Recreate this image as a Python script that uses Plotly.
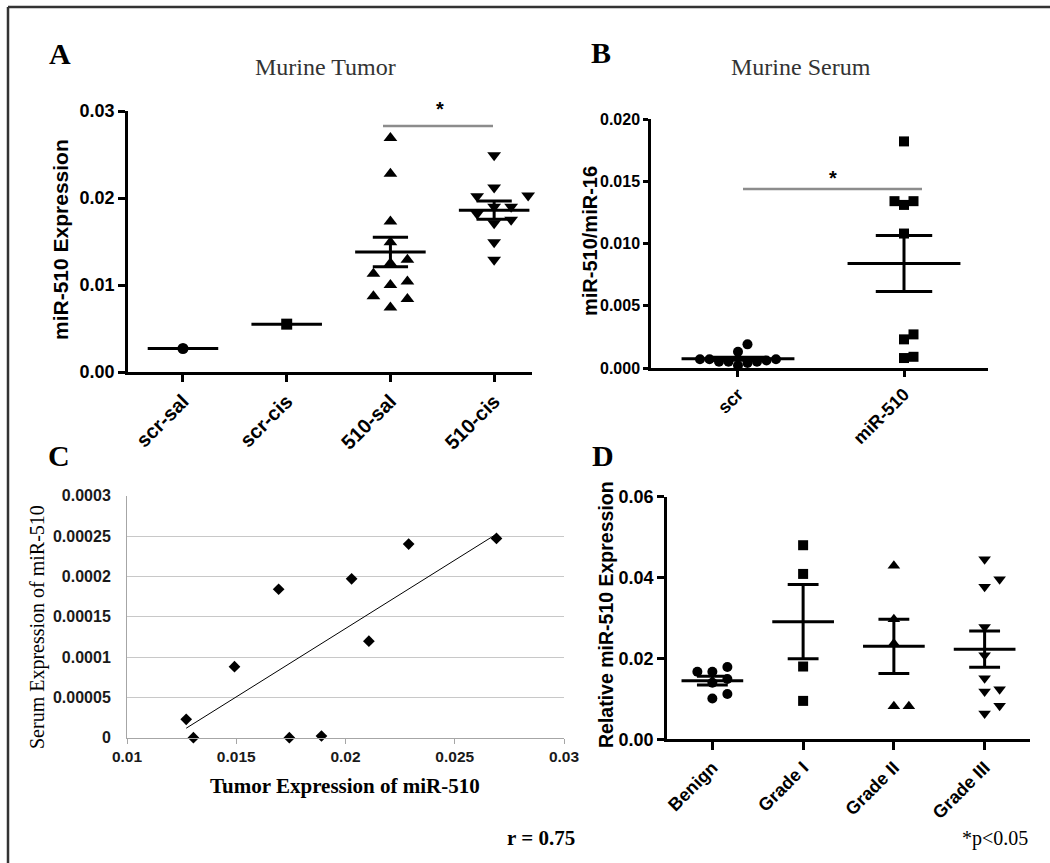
import numpy as np
import plotly.graph_objects as go

# ---------------- data ----------------
# Panel A: Murine Tumor
a_groups = ["scr-sal", "scr-cis", "510-sal", "510-cis"]
a_scr_sal = [0.0027]
a_scr_cis = [0.0055]
a_510_sal = [0.0269, 0.0228, 0.0173, 0.0149, 0.0125, 0.0129, 0.0113, 0.0104,
             0.0100, 0.0087, 0.0084, 0.0074]
a_510_cis = [0.0249, 0.0212, 0.0203, 0.0202, 0.0190, 0.0190, 0.0182, 0.0175,
             0.0171, 0.0149, 0.0129]
a_mean = [0.0027, 0.0055, 0.0138, 0.0186]
a_sem = [0.0, 0.0, 0.0017, 0.00105]
a_yticks = [0.00, 0.01, 0.02, 0.03]

# Panel B: Murine Serum
b_groups = ["scr", "miR-510"]
b_scr = [0.0019, 0.0013, 0.0007, 0.0007, 0.0005, 0.0005, 0.0002, 0.0005,
         0.0006, 0.0007, 0.0004]
b_mir510 = [0.0182, 0.0134, 0.0131, 0.0134, 0.0108, 0.0027, 0.0023, 0.0008, 0.0009]
b_mean = [0.00075, 0.0084]
b_sem = [0.00012, 0.00225]
b_yticks = [0.000, 0.005, 0.010, 0.015, 0.020]

# Panel C: correlation tumor vs serum
c_tumor = [0.01271, 0.01304, 0.01492, 0.01694, 0.01743, 0.0189, 0.02028,
           0.02107, 0.02289, 0.02691]
c_serum = [0.0000228, 0.0, 0.0000881, 0.000184, 0.0, 0.0000021, 0.000197,
           0.0001196, 0.00024, 0.000247]
c_xticks = [0.01, 0.015, 0.02, 0.025, 0.03]
c_xticklabels = ["0.01", "0.015", "0.02", "0.025", "0.03"]
c_yticks = [0, 0.00005, 0.0001, 0.00015, 0.0002, 0.00025, 0.0003]
c_yticklabels = ["0", "0.00005", "0.0001", "0.00015", "0.0002", "0.00025", "0.0003"]

# Panel D: human grades
d_groups = ["Benign", "Grade I", "Grade II", "Grade III"]
d_benign = [0.0167, 0.0167, 0.0179, 0.0140, 0.0149, 0.0101, 0.0112]
d_grade1 = [0.0480, 0.0409, 0.0180, 0.0095]
d_grade2 = [0.0429, 0.0297, 0.0237, 0.0082, 0.0082]
d_grade3 = [0.0445, 0.0377, 0.0396, 0.0278, 0.0208, 0.0151, 0.0124, 0.0118,
            0.0083, 0.0064]
d_mean = [0.0145, 0.0291, 0.0230, 0.0223]
d_sem = [0.0011, 0.0092, 0.0067, 0.0045]
d_yticks = [0.00, 0.02, 0.04, 0.06]

# ---------------- layout helpers ----------------
W, H = 1050, 863


def px(x):
    return x / W


def py(y):
    return 1 - y / H


SANS = "Liberation Sans"
SERIF = "Liberation Serif"


def swarm(vals, yscale, min_d, step):
    """simple beeswarm: horizontal pixel offsets so markers do not overlap"""
    order = sorted(range(len(vals)), key=lambda i: vals[i])
    placed = []
    offs = [0.0] * len(vals)
    for i in order:
        yp = vals[i] * yscale
        xo = 0.0
        for k in [0, 1, -1, 2, -2, 3, -3, 4, -4, 5, -5, 6, -6]:
            xo = k * step
            if all((xo - a) ** 2 + (yp - b) ** 2 >= min_d ** 2 for a, b in placed):
                break
        placed.append((xo, yp))
        offs[i] = xo
    return offs


fig = go.Figure()


def dot_panel(series, symbols, sizes, mean, sem, xa, ya, yscale, xscale, min_d, step):
    for i, (vals, sym, sz) in enumerate(zip(series, symbols, sizes)):
        offs = swarm(vals, yscale, min_d, step)
        xs = [i + o / xscale for o in offs]
        fig.add_trace(go.Scatter(
            x=xs, y=vals, mode="markers", xaxis=xa, yaxis=ya,
            marker=dict(symbol=sym, size=sz, color="black", line=dict(width=0)),
            cliponaxis=False, showlegend=False, hoverinfo="skip"))
    lx, ly = [], []
    for i, (m, s) in enumerate(zip(mean, sem)):
        lx += [i - 0.34, i + 0.34, None]
        ly += [m, m, None]
        if s > 0:
            lx += [i - 0.17, i + 0.17, None, i - 0.17, i + 0.17, None, i, i, None]
            ly += [m + s, m + s, None, m - s, m - s, None, m - s, m + s, None]
    fig.add_trace(go.Scatter(
        x=lx, y=ly, mode="lines", xaxis=xa, yaxis=ya,
        line=dict(color="black", width=3), cliponaxis=False,
        showlegend=False, hoverinfo="skip"))


# Panel A  (axes px: x 128..532, y 111..372)
a_xr = [-0.53, 3.365]
a_yr = [0, 0.03]
a_xscale = (532 - 128) / (a_xr[1] - a_xr[0])
a_yscale = (372 - 111) / (a_yr[1] - a_yr[0])
dot_panel([a_scr_sal, a_scr_cis, a_510_sal, a_510_cis],
          ["circle", "square", "triangle-up", "triangle-down"],
          [11, 11, 12, 12], a_mean, a_sem, "x", "y",
          a_yscale, a_xscale, 11.5, 17)

# Panel B  (axes px: x 651..988, y 119..368)
b_xr = [-0.524, 1.506]
b_yr = [0, 0.02]
b_xscale = (988 - 651) / (b_xr[1] - b_xr[0])
b_yscale = (368 - 119) / (b_yr[1] - b_yr[0])
dot_panel([b_scr, b_mir510], ["circle", "square"], [10, 10], b_mean, b_sem,
          "x2", "y2", b_yscale, b_xscale, 9.5, 9.5)

# Panel C
c_fit = np.polyfit(c_tumor, c_serum, 1)
c_fx = [min(c_tumor), max(c_tumor)]
c_fy = [float(np.polyval(c_fit, v)) for v in c_fx]
fig.add_trace(go.Scatter(x=c_fx, y=c_fy, mode="lines", xaxis="x3", yaxis="y3",
                         line=dict(color="black", width=1), showlegend=False,
                         hoverinfo="skip"))
fig.add_trace(go.Scatter(x=c_tumor, y=c_serum, mode="markers", xaxis="x3", yaxis="y3",
                         marker=dict(symbol="diamond", size=9, color="black"),
                         cliponaxis=False, showlegend=False, hoverinfo="skip"))

# Panel D  (axes px: x 667..1030, y 496.7..739.3)
d_xr = [-0.5, 3.5]
d_yr = [0, 0.06]
d_xscale = (1030 - 667) / (d_xr[1] - d_xr[0])
d_yscale = (739.3 - 496.7) / (d_yr[1] - d_yr[0])
dot_panel([d_benign, d_grade1, d_grade2, d_grade3],
          ["circle", "square", "triangle-up", "triangle-down"],
          [10, 10, 11, 11], d_mean, d_sem, "x4", "y4",
          d_yscale, d_xscale, 10.5, 15)


def cat_axis(dom, rng, labels, size, anchor, tl=7):
    return dict(domain=[px(dom[0]), px(dom[1])], range=rng, anchor=anchor,
                automargin=False,
                tickvals=list(range(len(labels))), ticktext=labels,
                tickangle=-45, ticks="outside", ticklen=tl, tickwidth=2.5,
                tickcolor="black", showline=True, linewidth=2.5, linecolor="black",
                showgrid=False, zeroline=False,
                tickfont=dict(family=SANS, size=size, color="black", weight="bold"))


def val_axis(dom, rng, vals, fmt, size, anchor, tl=7):
    return dict(domain=[py(dom[1]), py(dom[0])], range=rng, anchor=anchor,
                automargin=False,
                tickvals=vals, tickformat=fmt, ticks="outside", ticklen=tl,
                tickwidth=2.5, tickcolor="black", showline=True, linewidth=2.5,
                linecolor="black", showgrid=False, zeroline=False,
                tickfont=dict(family=SANS, size=size, color="black", weight="bold"))


annotations = []


def txt(x, y, s, size, family=SERIF, bold=False, color="black", angle=0,
        xanchor="center", yanchor="middle"):
    annotations.append(dict(
        x=px(x), y=py(y), xref="paper", yref="paper", text=s, showarrow=False,
        textangle=angle, xanchor=xanchor, yanchor=yanchor,
        font=dict(family=family, size=size, color=color,
                  weight="bold" if bold else "normal")))


# panel letters & titles
txt(60, 53, "A", 30, bold=True)
txt(601, 52, "B", 30, bold=True)
txt(59, 455, "C", 30, bold=True)
txt(603, 455, "D", 30, bold=True)
txt(325, 67, "Murine Tumor", 24, color="#333333")
txt(801, 67, "Murine Serum", 24, color="#333333")

# axis titles
txt(60, 240, "miR-510 Expression", 21, family=SANS, bold=True, angle=-90)
txt(590, 241, "miR-510/miR-16", 20, family=SANS, bold=True, angle=-90)
txt(606, 615, "Relative miR-510 Expression", 19.5, family=SANS, bold=True, angle=-90)
txt(37, 627, "Serum Expression of miR-510", 20, angle=-90)
txt(345, 786, "Tumor Expression of miR-510", 21, bold=True)

# footnotes
txt(577, 838, "r = 0.75", 21, bold=True, xanchor="right")
txt(1030, 838, "*p<0.05", 20, xanchor="right")

# significance stars
txt(440, 109, "*", 20, family=SANS, bold=True)
txt(833, 178, "*", 20, family=SANS, bold=True)

shapes = [
    dict(type="line", xref="paper", yref="paper", x0=px(383), x1=px(493),
         y0=py(126), y1=py(126), line=dict(color="#8c8c8c", width=2.5)),
    dict(type="line", xref="paper", yref="paper", x0=px(743), x1=px(922),
         y0=py(189), y1=py(189), line=dict(color="#8c8c8c", width=2.5)),
    # outer frame (top and left)
    dict(type="line", xref="paper", yref="paper", x0=px(8), x1=1.0,
         y0=py(7), y1=py(7), line=dict(color="#333333", width=2.5)),
    dict(type="line", xref="paper", yref="paper", x0=px(8), x1=px(8),
         y0=py(7), y1=0.0, line=dict(color="#333333", width=2.5)),
]

fig.update_layout(
    template="none",
    width=W, height=H, margin=dict(l=0, r=0, t=0, b=0, pad=0, autoexpand=False),
    paper_bgcolor="white", plot_bgcolor="white", showlegend=False,
    xaxis=cat_axis([128, 532], a_xr, a_groups, 20, "y"),
    yaxis=val_axis([111, 372], a_yr, a_yticks, ".2f", 18, "x"),
    xaxis2=cat_axis([651, 988], b_xr, b_groups, 18, "y2", tl=6),
    yaxis2=val_axis([119, 368], b_yr, b_yticks, ".3f", 16, "x2", tl=5),
    xaxis4=cat_axis([667, 1030], d_xr, d_groups, 18, "y4", tl=8),
    yaxis4=val_axis([496.7, 739.3], d_yr, d_yticks, ".2f", 18, "x4", tl=7),
    xaxis3=dict(domain=[px(127), px(564)], range=[0.01, 0.03], anchor="y3",
                automargin=False,
                tickvals=c_xticks, ticktext=c_xticklabels, ticks="outside",
                ticklen=5, tickwidth=1, tickcolor="#a6a6a6", showline=True,
                linewidth=1, linecolor="#a6a6a6", showgrid=False, zeroline=False,
                tickfont=dict(family=SANS, size=15.5, color="#1a1a1a", weight="bold")),
    yaxis3=dict(domain=[py(737.7), py(495.7)], range=[0, 0.0003], anchor="x3",
                automargin=False,
                tickvals=c_yticks, ticktext=c_yticklabels, ticks="",
                ticklabelstandoff=12, showline=True, linewidth=1,
                linecolor="#a6a6a6", showgrid=True, gridcolor="#c8c8c8",
                gridwidth=1, zeroline=False,
                tickfont=dict(family=SANS, size=16, color="#1a1a1a", weight="bold")),
    annotations=annotations, shapes=shapes,
)

fig.write_html("out.html", config={"displayModeBar": False},
               post_script="document.body.style.margin='0';")
